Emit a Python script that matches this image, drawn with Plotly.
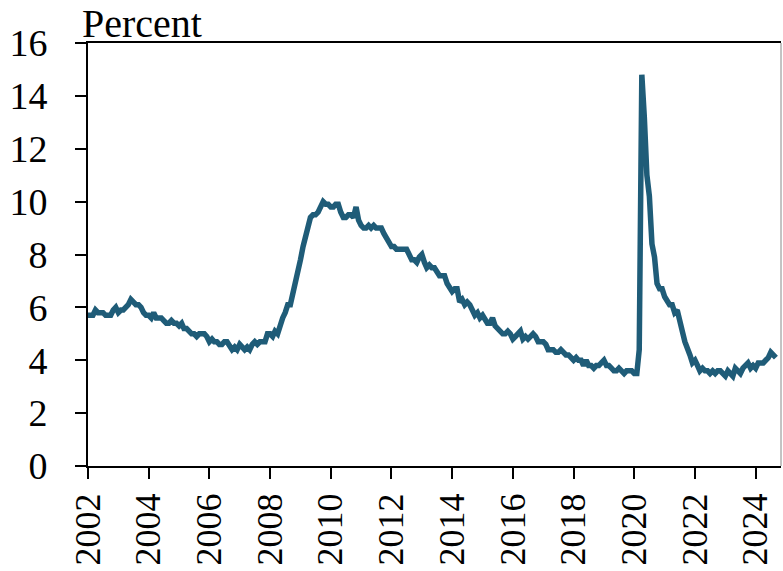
import plotly.graph_objects as go
import pandas as pd

start_month = "2002-01-01"
unemployment_rate = [
    # 2002
    5.7, 5.7, 5.7, 5.9, 5.8, 5.8, 5.8, 5.7, 5.7, 5.7, 5.9, 6.0,
    # 2003
    5.8, 5.9, 5.9, 6.0, 6.1, 6.3, 6.2, 6.1, 6.1, 6.0, 5.8, 5.7,
    # 2004
    5.7, 5.6, 5.8, 5.6, 5.6, 5.6, 5.5, 5.4, 5.4, 5.5, 5.4, 5.4,
    # 2005
    5.3, 5.4, 5.2, 5.2, 5.1, 5.0, 5.0, 4.9, 5.0, 5.0, 5.0, 4.9,
    # 2006
    4.7, 4.8, 4.7, 4.7, 4.6, 4.6, 4.7, 4.7, 4.5, 4.4, 4.5, 4.4,
    # 2007
    4.6, 4.5, 4.4, 4.5, 4.4, 4.6, 4.7, 4.6, 4.7, 4.7, 4.7, 5.0,
    # 2008
    5.0, 4.9, 5.1, 5.0, 5.4, 5.6, 5.8, 6.1, 6.1, 6.5, 6.8, 7.3,
    # 2009
    7.8, 8.3, 8.7, 9.0, 9.4, 9.5, 9.5, 9.6, 9.8, 10.0, 9.9, 9.9,
    # 2010
    9.8, 9.8, 9.9, 9.9, 9.6, 9.4, 9.4, 9.5, 9.5, 9.4, 9.8, 9.3,
    # 2011
    9.1, 9.0, 9.0, 9.1, 9.0, 9.1, 9.0, 9.0, 9.0, 8.8, 8.6, 8.5,
    # 2012
    8.3, 8.3, 8.2, 8.2, 8.2, 8.2, 8.2, 8.0, 7.8, 7.8, 7.7, 7.9,
    # 2013
    8.0, 7.7, 7.5, 7.6, 7.5, 7.5, 7.3, 7.2, 7.2, 7.2, 6.9, 6.7,
    # 2014
    6.6, 6.7, 6.7, 6.2, 6.3, 6.1, 6.2, 6.1, 5.9, 5.7, 5.8, 5.6,
    # 2015
    5.7, 5.5, 5.4, 5.4, 5.6, 5.3, 5.2, 5.1, 5.0, 5.0, 5.1, 5.0,
    # 2016
    4.8, 4.9, 5.0, 5.1, 4.8, 4.9, 4.8, 4.9, 5.0, 4.9, 4.7, 4.7,
    # 2017
    4.7, 4.6, 4.4, 4.4, 4.4, 4.3, 4.3, 4.4, 4.3, 4.2, 4.2, 4.1,
    # 2018
    4.0, 4.1, 4.0, 4.0, 3.8, 4.0, 3.8, 3.8, 3.7, 3.8, 3.8, 3.9,
    # 2019
    4.0, 3.8, 3.8, 3.7, 3.6, 3.6, 3.7, 3.6, 3.5, 3.6, 3.6, 3.6,
    # 2020
    3.5, 3.5, 4.4, 14.8, 13.2, 11.0, 10.2, 8.4, 7.9, 6.9, 6.7, 6.7,
    # 2021
    6.4, 6.2, 6.1, 6.1, 5.8, 5.9, 5.4, 5.1, 4.7, 4.5, 4.2, 3.9,
    # 2022
    4.0, 3.8, 3.6, 3.7, 3.6, 3.6, 3.5, 3.6, 3.5, 3.6, 3.6, 3.5,
    # 2023
    3.4, 3.6, 3.5, 3.4, 3.7, 3.6, 3.5, 3.7, 3.8, 3.9, 3.7, 3.8,
    # 2024
    3.7, 3.9, 3.9, 3.9, 4.0, 4.1, 4.3, 4.2, 4.1,
]
dates = pd.date_range(start_month, periods=len(unemployment_rate), freq="MS")

x_tick_years = [str(y) for y in range(2002, 2025, 2)]
x_tick_vals = [f"{y}-01-01" for y in range(2002, 2025, 2)]
y_tick_vals = [0, 2, 4, 6, 8, 10, 12, 14, 16]
y_title = "Percent"

FONT = "Liberation Serif"
LINE_COLOR = "#1f5c78"

fig = go.Figure()
fig.add_trace(go.Scatter(
    x=dates, y=unemployment_rate, mode="lines",
    line=dict(color=LINE_COLOR, width=5.5),
    hoverinfo="skip", showlegend=False,
))

fig.update_layout(
    width=783, height=571,
    margin=dict(l=88, r=2, t=43, b=105),
    paper_bgcolor="white", plot_bgcolor="white",
    font=dict(family=FONT, size=38, color="black"),
    showlegend=False,
)
fig.update_xaxes(
    range=["2002-01-01", "2024-11-01"], automargin=False,
    tickmode="array", tickvals=x_tick_vals, ticktext=x_tick_years,
    tickangle=-90, ticks="outside", ticklen=11, tickwidth=2, tickcolor="black",
    tickfont=dict(size=36),
    showline=True, linecolor="black", linewidth=2, mirror=True,
    showgrid=False, zeroline=False, ticklabelstandoff=0,
)
fig.update_yaxes(
    range=[0, 16], automargin=False,
    tickmode="array", tickvals=y_tick_vals,
    ticks="outside", ticklen=11, tickwidth=2, tickcolor="black",
    showline=True, linecolor="black", linewidth=2,
    showgrid=False, zeroline=False, ticklabelstandoff=20,
)
fig.add_shape(type="line", xref="paper", yref="paper", x0=1, x1=1, y0=0, y1=1,
              line=dict(color="#888888", width=1))
fig.add_annotation(text=y_title, xref="paper", yref="paper", x=-0.012, y=1.0,
                   xanchor="left", yanchor="bottom", showarrow=False, yshift=-5,
                   font=dict(family=FONT, size=40, color="black"))

fig.write_html("out.html", config={"displayModeBar": False},
               post_script="document.body.style.margin='0';")
